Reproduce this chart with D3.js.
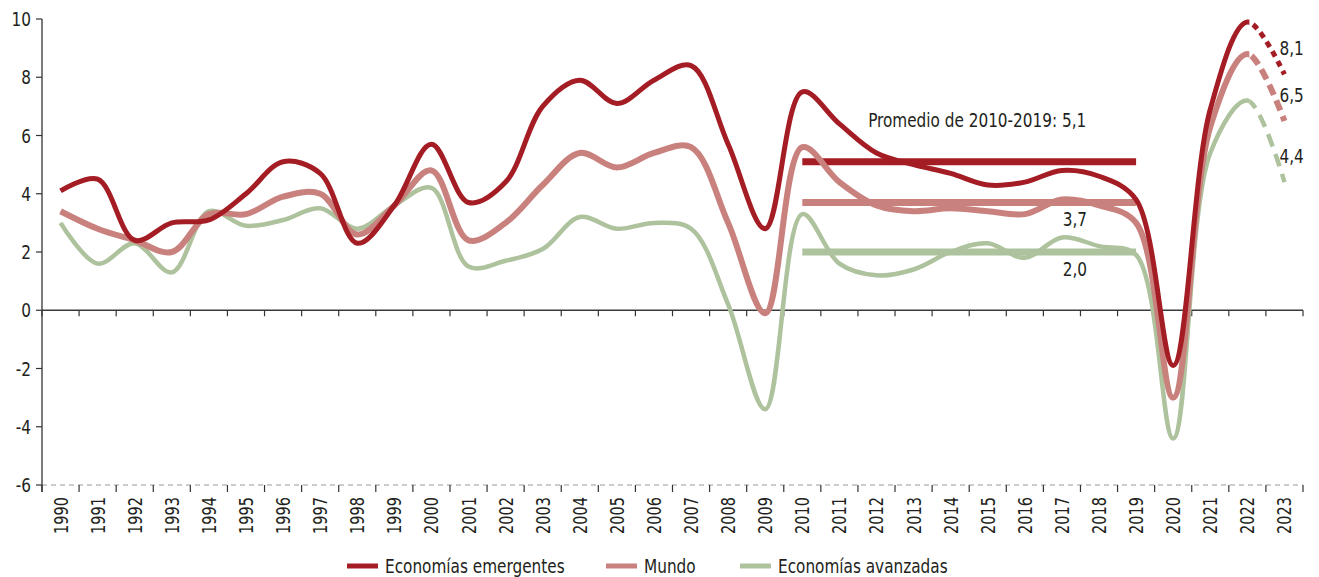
<!DOCTYPE html>
<html>
<head>
<meta charset="utf-8">
<script src="https://cdn.jsdelivr.net/npm/d3@7"></script>
<style>
  body { margin: 0; background: #fff; }
  svg text { font-family: "Liberation Sans Narrow", "DejaVu Sans Condensed", "Roboto Condensed", sans-serif; font-stretch: condensed; fill: #231f20; }
</style>
</head>
<body>
<div id="chart"></div>
<script>
// data
var years = ['1990','1991','1992','1993','1994','1995','1996','1997','1998','1999',
  '2000','2001','2002','2003','2004','2005','2006','2007','2008','2009',
  '2010','2011','2012','2013','2014','2015','2016','2017','2018','2019',
  '2020','2021','2022','2023'];
var emergentes = [4.1,4.5,2.4,3.0,3.1,4.0,5.1,4.7,2.3,3.6,5.7,3.7,4.4,7.0,7.9,7.1,7.9,8.4,5.7,2.8,
  7.5,6.4,5.4,5.0,4.7,4.3,4.4,4.8,4.6,3.8,-1.9,6.9,9.9,8.1];
var mundo = [3.4,2.8,2.4,2.0,3.3,3.3,3.9,4.0,2.6,3.6,4.8,2.4,3.0,4.3,5.4,4.9,5.4,5.6,3.0,-0.1,
  5.6,4.4,3.6,3.4,3.5,3.4,3.3,3.8,3.6,3.0,-3.0,6.3,8.8,6.5];
var avanzadas = [3.0,1.6,2.3,1.3,3.4,2.9,3.1,3.5,2.8,3.6,4.2,1.5,1.7,2.1,3.2,2.8,3.0,2.8,0.2,-3.4,
  3.3,1.6,1.2,1.4,2.0,2.3,1.8,2.5,2.2,1.9,-4.4,5.4,7.2,4.4];
var promedios = [5.1, 3.7, 2.0];
var yTicks = [-6,-4,-2,0,2,4,6,8,10];
var seriesNames = ['Economías emergentes', 'Mundo', 'Economías avanzadas'];

var WIDTH = 1319, HEIGHT = 577;
var colors = ['#a51d24', '#c9817e', '#adc29d'];
var SQUEEZE = 0.85; // narrow the available condensed font a bit more

var svg = d3.select('#chart').append('svg')
  .attr('width', WIDTH)
  .attr('height', HEIGHT);

// text helper: position + horizontal squeeze (+ optional rotation)
function label(g, px, py, txt, size, anchor, rot) {
  var t = 'translate(' + px + ',' + py + ')' + (rot ? ' rotate(' + rot + ')' : '') + ' scale(' + SQUEEZE + ',1)';
  return g.append('text')
    .attr('transform', t)
    .attr('text-anchor', anchor || 'start')
    .style('font-size', size + 'px')
    .text(txt);
}
function comma(v) { return v.toFixed(1).replace('.', ','); }

var x = d3.scaleBand().domain(years).range([42, 1303]);
var y = d3.scaleLinear().domain([-6, 10]).range([485, 19]);
var xc = function(yr) { return x(yr) + x.bandwidth() / 2; };

// dashed line at -6
svg.append('line')
  .attr('x1', 42).attr('x2', 1303)
  .attr('y1', y(-6)).attr('y2', y(-6))
  .attr('stroke', '#9a9a9a').attr('stroke-width', 1)
  .attr('stroke-dasharray', '5,4');

// ticks under -6 line and year labels
var bounds = years.map(function(d) { return x(d); }).concat([x.range()[1]]);
var bottomAxis = svg.append('g');
bottomAxis.selectAll('line').data(bounds).enter().append('line')
  .attr('x1', function(d) { return d; }).attr('x2', function(d) { return d; })
  .attr('y1', y(-6)).attr('y2', y(-6) + 7)
  .attr('stroke', '#333').attr('stroke-width', 1.2);
years.forEach(function(d) {
  label(bottomAxis, xc(d) + 7, y(-6) + 12, d, 19, 'end', -90);
});

// zero line with ticks
var zeroAxis = svg.append('g');
zeroAxis.append('line')
  .attr('x1', 42).attr('x2', 1303)
  .attr('y1', y(0)).attr('y2', y(0))
  .attr('stroke', '#3a3a3a').attr('stroke-width', 1.3);
zeroAxis.selectAll('line.tk').data(bounds).enter().append('line')
  .attr('class', 'tk')
  .attr('x1', function(d) { return d; }).attr('x2', function(d) { return d; })
  .attr('y1', y(0)).attr('y2', y(0) + 6)
  .attr('stroke', '#333').attr('stroke-width', 1.2);

// y axis
var yAxis = svg.append('g');
yAxis.append('line')
  .attr('x1', 42).attr('x2', 42)
  .attr('y1', y(10)).attr('y2', y(-6) + 7)
  .attr('stroke', '#333').attr('stroke-width', 1.3);
yAxis.selectAll('line.tk').data(yTicks).enter().append('line')
  .attr('class', 'tk')
  .attr('x1', 36).attr('x2', 42)
  .attr('y1', function(d) { return y(d); }).attr('y2', function(d) { return y(d); })
  .attr('stroke', '#333').attr('stroke-width', 1.2);
yTicks.forEach(function(d) {
  label(yAxis, 31, y(d) + 7, String(d), 20, 'end');
});

// clip paths: solid up to 2022, dashed after
var defs = svg.append('defs');
defs.append('clipPath').attr('id', 'clip-solid')
  .append('rect').attr('x', 0).attr('y', 0)
  .attr('width', xc('2022') + 2).attr('height', HEIGHT);
defs.append('clipPath').attr('id', 'clip-dash')
  .append('rect').attr('x', xc('2022') + 2).attr('y', 0)
  .attr('width', WIDTH).attr('height', HEIGHT);

var line = d3.line()
  .x(function(d, i) { return xc(years[i]); })
  .y(function(d) { return y(d); })
  .curve(d3.curveCatmullRom.alpha(0.5));

var allSeries = [emergentes, mundo, avanzadas];
var widths = [5, 6, 4.5];
var dashes = ['6,5', '11,6', '13,8'];

// average lines 2010-2019
promedios.forEach(function(v, i) {
  svg.append('line')
    .attr('x1', xc('2010')).attr('x2', xc('2019'))
    .attr('y1', y(v)).attr('y2', y(v))
    .attr('stroke', colors[i]).attr('stroke-width', 7);
});

// draw series, back to front
[2, 1, 0].forEach(function(i) {
  svg.append('path')
    .datum(allSeries[i])
    .attr('d', line)
    .attr('fill', 'none')
    .attr('stroke', colors[i])
    .attr('stroke-width', widths[i])
    .attr('clip-path', 'url(#clip-solid)');
  svg.append('path')
    .datum(allSeries[i])
    .attr('d', line)
    .attr('fill', 'none')
    .attr('stroke', colors[i])
    .attr('stroke-width', widths[i])
    .attr('stroke-dasharray', dashes[i])
    .attr('clip-path', 'url(#clip-dash)');
});

// annotations
var notes = svg.append('g');
label(notes, x('2014') + x.bandwidth() + 8, y(promedios[0]) - 35,
  'Promedio de 2010-2019: ' + comma(promedios[0]), 20, 'middle');
[1, 2].forEach(function(i) {
  label(notes, xc('2017') + 13, y(promedios[i]) + 24, comma(promedios[i]), 20, 'middle');
});
allSeries.forEach(function(s) {
  var v = s[s.length - 1];
  label(notes, xc('2023') - 5, y(v) - 19, comma(v), 20, 'start');
});

// legend
var legendX = [347, 606, 740];
var legend = svg.append('g');
seriesNames.forEach(function(name, i) {
  legend.append('line')
    .attr('x1', legendX[i]).attr('x2', legendX[i] + 31)
    .attr('y1', 566).attr('y2', 566)
    .attr('stroke', colors[i]).attr('stroke-width', 5);
  label(legend, legendX[i] + 38, 573, name, 20, 'start');
});
</script>
</body>
</html>
